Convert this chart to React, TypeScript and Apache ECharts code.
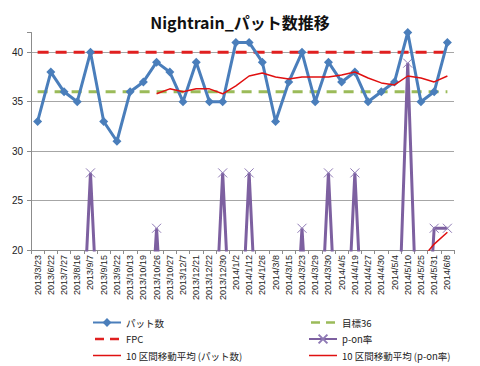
import React, { useEffect, useRef } from "react";
import * as echarts from "echarts";

const categories = [
  "2013/3/23", "2013/6/22", "2013/7/27", "2013/8/16", "2013/9/7", "2013/9/15",
  "2013/9/22", "2013/10/13", "2013/10/19", "2013/10/26", "2013/10/27", "2013/12/7",
  "2013/12/21", "2013/12/22", "2013/12/30", "2014/1/2", "2014/1/12", "2014/1/26",
  "2014/3/8", "2014/3/15", "2014/3/23", "2014/3/29", "2014/3/30", "2014/4/5",
  "2014/4/19", "2014/4/27", "2014/4/30", "2014/5/4", "2014/5/10", "2014/5/25",
  "2014/5/31", "2014/6/8",
];

const putts = [
  33, 38, 36, 35, 40, 33, 31, 36, 37, 39, 38, 35, 39, 35, 35, 41,
  41, 39, 33, 37, 40, 35, 39, 37, 38, 35, 36, 37, 42, 35, 36, 41,
];

const target36 = [
  36, 36, 36, 36, 36, 36, 36, 36, 36, 36, 36, 36, 36, 36, 36, 36,
  36, 36, 36, 36, 36, 36, 36, 36, 36, 36, 36, 36, 36, 36, 36, 36,
];

const fpc = [
  40, 40, 40, 40, 40, 40, 40, 40, 40, 40, 40, 40, 40, 40, 40, 40,
  40, 40, 40, 40, 40, 40, 40, 40, 40, 40, 40, 40, 40, 40, 40, 40,
];

const pOnRate = [
  0, 0, 0, 0, 27.8, 0, 0, 0, 0, 22.2, 0, 0, 0, 0, 27.8, 0,
  27.8, 0, 0, 0, 22.2, 0, 27.8, 0, 27.8, 0, 0, 0, 38.9, 0, 22.2, 22.2,
];

const puttsMA10 = [
  null, null, null, null, null, null, null, null, null, 35.8, 36.3, 36.0, 36.3, 36.3, 35.8, 36.6,
  37.6, 37.9, 37.5, 37.3, 37.5, 37.5, 37.5, 37.7, 38.0, 37.4, 36.9, 36.7, 37.6, 37.4, 37.0, 37.6,
];

const pOnMA10 = [
  null, null, null, null, null, null, null, null, null, null, null, null, null, null, null, null,
  null, null, null, null, null, null, null, null, null, null, null, null, null, 19.0, 20.6, 21.8,
];

const yTicks = [20, 25, 30, 35, 40];

const FONT = "'Noto Sans CJK JP', 'Liberation Sans', sans-serif";

// legend icons (bbox 0..28 x 0..11 kept by tiny corner sub-paths)
const BOX = "M0,0L0.01,0L0.01,0.01Z M28,11 L27.99,11 L27.99,10.99Z";
const DASH_ICON = `path://${BOX} M2,4.25h9v2.5h-9z M17,4.25h9v2.5h-9z`;
const THIN_ICON = `path://${BOX} M0,4.75h28v1.5h-28z`;

export default function App() {
  const ref = useRef<HTMLDivElement>(null);

  useEffect(() => {
    if (!ref.current) return;
    const chart = echarts.init(ref.current, null, { renderer: "svg" });
    const xMark = "path://M0,0L10,10M10,0L0,10";
    const legendBase = {
      orient: "vertical",
      top: 312,
      height: 54,
      itemWidth: 28,
      itemHeight: 11,
      itemGap: 5.5,
      textStyle: { fontFamily: FONT, fontSize: 9.5, color: "#222", lineHeight: 11 },
    };
    chart.setOption({
      animation: false,
      backgroundColor: "#ffffff",
      title: {
        text: "Nightrain_パット数推移",
        left: "center",
        top: 9,
        textStyle: { fontFamily: FONT, fontSize: 16, fontWeight: "bold", color: "#111" },
      },
      legend: [
        {
          ...legendBase,
          left: 87,
          data: [
            { name: "パット数" },
            { name: "FPC", icon: DASH_ICON },
            { name: "10 区間移動平均 (パット数)", icon: THIN_ICON },
          ],
        },
        {
          ...legendBase,
          left: 303,
          data: [
            { name: "目標36", icon: DASH_ICON },
            { name: "p-on率" },
            { name: "10 区間移動平均 (p-on率)", icon: THIN_ICON },
          ],
        },
      ],
      grid: { left: 31, right: 26, top: 32.5, bottom: 116, containLabel: false },
      xAxis: {
        type: "category",
        data: categories,
        boundaryGap: true,
        axisLine: { lineStyle: { color: "#8c8c8c", width: 1 } },
        axisTick: { show: true, length: 4, lineStyle: { color: "#8c8c8c" } },
        axisLabel: {
          rotate: 90,
          interval: 0,
          fontFamily: "'Liberation Sans', sans-serif",
          fontSize: 9,
          color: "#222",
          margin: 5,
        },
      },
      yAxis: {
        type: "value",
        min: 20,
        max: 42,
        interval: 5,
        axisLine: { show: true, lineStyle: { color: "#8c8c8c" } },
        axisTick: { show: true, length: 4, lineStyle: { color: "#8c8c8c" } },
        axisLabel: {
          fontFamily: "'Liberation Sans', sans-serif",
          fontSize: 10,
          color: "#222",
          margin: 8,
          formatter: (v: number) => (yTicks.includes(v) ? String(v) : ""),
        },
        splitLine: {
          show: true,
          showMaxLine: false,
          lineStyle: { color: "#a6a6a6", width: 1 },
        },
      },
      series: [
        {
          name: "パット数",
          type: "line",
          data: putts,
          symbol: "diamond",
          symbolSize: 9,
          z: 5,
          lineStyle: { color: "#4a7ebb", width: 3 },
          itemStyle: { color: "#4a7ebb" },
        },
        {
          name: "目標36",
          type: "line",
          data: target36,
          symbol: "none",
          z: 3,
          lineStyle: { color: "#9bbb59", width: 3, type: [10, 7] },
          itemStyle: { color: "#9bbb59" },
        },
        {
          name: "FPC",
          type: "line",
          data: fpc,
          symbol: "none",
          z: 3,
          lineStyle: { color: "#e02020", width: 3, type: [11, 7] },
          itemStyle: { color: "#e02020" },
        },
        {
          name: "p-on率",
          type: "line",
          data: pOnRate,
          symbol: xMark,
          symbolSize: 9,
          clip: true,
          z: 4,
          lineStyle: { color: "#7d60a0", width: 3 },
          itemStyle: { color: "#7d60a0", borderColor: "#8f7ab5", borderWidth: 1 },
        },
        {
          name: "10 区間移動平均 (パット数)",
          type: "line",
          data: puttsMA10,
          symbol: "none",
          z: 6,
          lineStyle: { color: "#e01010", width: 1.5 },
          itemStyle: { color: "#e01010" },
        },
        {
          name: "10 区間移動平均 (p-on率)",
          type: "line",
          data: pOnMA10,
          symbol: "none",
          clip: true,
          z: 6,
          lineStyle: { color: "#e01010", width: 1.5 },
          itemStyle: { color: "#e01010" },
        },
      ],
    });
    return () => chart.dispose();
  }, []);

  return <div ref={ref} style={{ width: 480, height: 366, position: "absolute", left: 0, top: 0 }} />;
}
